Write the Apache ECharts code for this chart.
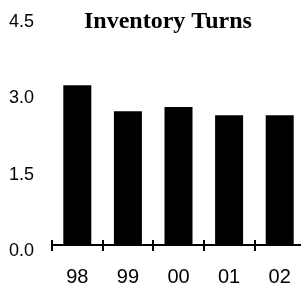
<!DOCTYPE html>
<html>
<head>
<meta charset="utf-8">
<script src="https://cdn.jsdelivr.net/npm/echarts@6/dist/echarts.min.js"></script>
<style>
  html, body { margin: 0; padding: 0; background: #fff; }
  #chart { width: 301px; height: 286px; }
</style>
</head>
<body>
<div id="chart"></div>
<script>
// data
var years = ['98', '99', '00', '01', '02'];
var turns = [3.14, 2.63, 2.71, 2.55, 2.55];
var yMin = 0, yMax = 4.5, yStep = 1.5;

var myChart = echarts.init(document.getElementById('chart'));
myChart.setOption({
  animation: false,
  title: {
    text: 'Inventory Turns',
    left: 84,
    top: 10,
    padding: 0,
    textStyle: {
      fontFamily: 'Liberation Serif',
      fontWeight: 'bold',
      fontSize: 24,
      color: '#000'
    }
  },
  grid: {
    left: 52,
    top: 16,
    width: 253,
    bottom: 41,
    outerBoundsMode: 'none'
  },
  xAxis: [
    {
      type: 'category',
      data: years,
      axisLine: { lineStyle: { color: '#000', width: 2 } },
      axisTick: { show: true, length: 6, lineStyle: { color: '#000', width: 2 } },
      axisLabel: {
        margin: 22,
        color: '#000',
        fontFamily: 'Liberation Sans',
        fontSize: 20
      }
    },
    {
      // second axis only to draw the upper half of the crossing ticks
      type: 'category',
      data: years,
      position: 'bottom',
      axisLine: { show: false },
      axisTick: { show: true, inside: true, length: 5, lineStyle: { color: '#000', width: 2 } },
      axisLabel: { show: false }
    }
  ],
  yAxis: {
    type: 'value',
    min: yMin,
    max: yMax,
    interval: yStep,
    axisLine: { show: false },
    axisTick: { show: false },
    splitLine: { show: false },
    axisLabel: {
      margin: 18,
      verticalAlign: 'top',
      lineHeight: 12,
      color: '#000',
      fontFamily: 'Liberation Sans',
      fontSize: 18,
      formatter: function (v) { return v.toFixed(1); }
    }
  },
  series: [
    {
      type: 'bar',
      data: turns,
      barWidth: 28,
      itemStyle: { color: '#000' }
    }
  ]
});
</script>
</body>
</html>
